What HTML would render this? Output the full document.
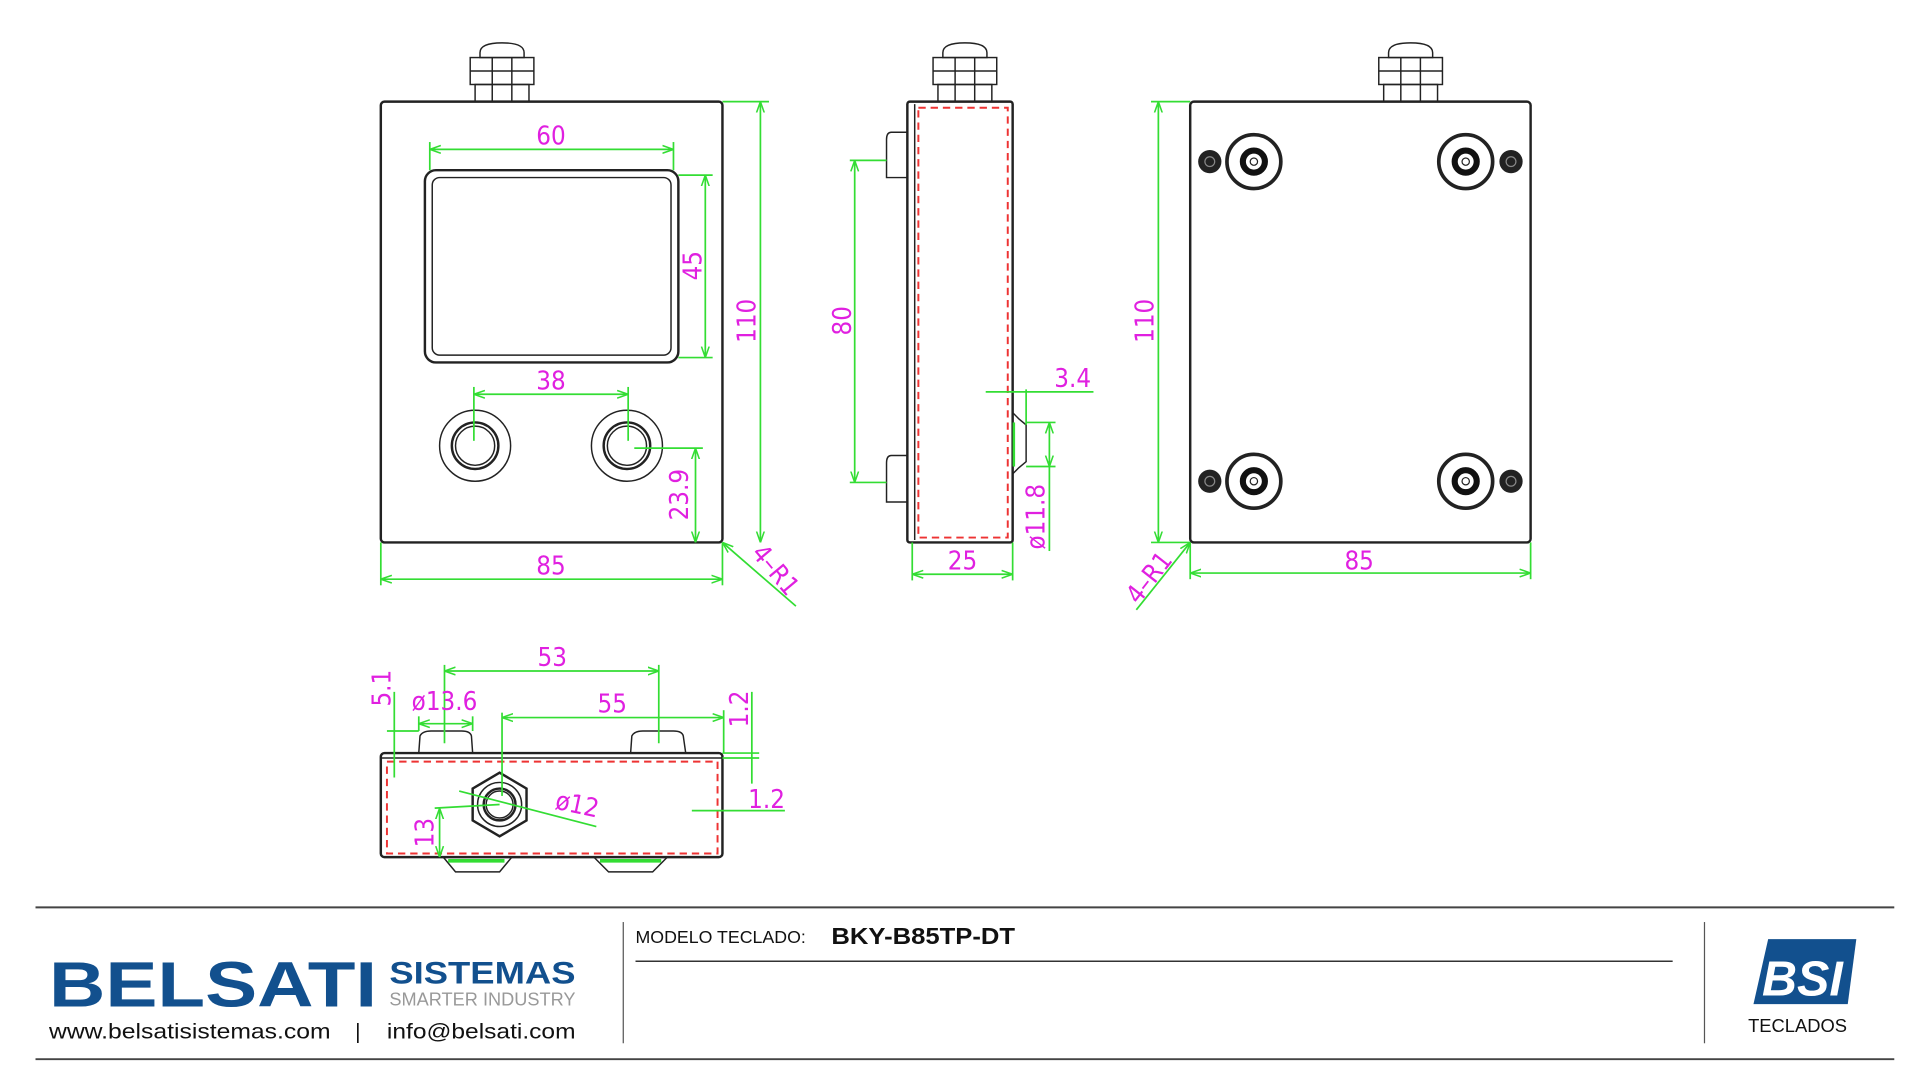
<!DOCTYPE html>
<html><head><meta charset="utf-8"><style>
html,body{margin:0;padding:0;background:#fff;width:1920px;height:1080px;overflow:hidden}
svg{display:block}
.o{fill:none;stroke:#222;stroke-width:2}
.t{fill:none;stroke:#222;stroke-width:1.2}
.g{stroke:#33dd33;stroke-width:1.4;fill:none}
.r{fill:none;stroke:#e33;stroke-width:1.6;stroke-dasharray:6 4}
.m{fill:#e020e0;font-family:"DejaVu Sans Condensed","Liberation Sans",sans-serif;font-size:21px;text-anchor:middle}
</style></head><body>
<svg width="1920" height="1080" viewBox="0 0 1568 882" xmlns="http://www.w3.org/2000/svg">
<defs>
<marker id="a" viewBox="0 0 10 10" refX="10" refY="5" markerWidth="9" markerHeight="9" orient="auto-start-reverse" markerUnits="userSpaceOnUse"><path d="M0,1.5 L10,5 L0,8.5" fill="none" stroke="#33dd33" stroke-width="1.4"/></marker>
<g id="gland"><path class="t" d="M8,12 L8,8 Q8,0 26,0 Q44,0 44,8 L44,12 Z"/><rect class="t" x="0" y="12" width="52" height="22"/><rect class="t" x="4" y="34" width="44" height="14"/><line class="t" x1="0" y1="23" x2="52" y2="23"/><line class="t" x1="18" y1="12" x2="18" y2="48"/><line class="t" x1="34" y1="12" x2="34" y2="48"/></g>
<g id="screw"><circle r="22" fill="none" stroke="#222" stroke-width="3"/><circle r="9" fill="none" stroke="#111" stroke-width="5"/><circle r="3" fill="#fff" stroke="#222"/></g>
<g id="sm"><circle r="9.5" fill="#222"/><circle r="4" fill="none" stroke="#888"/></g>
</defs>

<!-- FRONT VIEW -->
<use href="#gland" x="384" y="35"/>
<rect class="o" x="311" y="83" width="279" height="360" rx="3"/>
<rect class="o" x="347" y="139" width="207" height="157" rx="9"/>
<rect class="t" x="353" y="145" width="195" height="145" rx="6"/>
<circle class="t" cx="388" cy="364" r="29"/><circle class="o" cx="388" cy="364" r="19"/><circle class="t" cx="388" cy="364" r="16"/>
<circle class="t" cx="512" cy="364" r="29"/><circle class="o" cx="512" cy="364" r="19"/><circle class="t" cx="512" cy="364" r="16"/>
<line class="g" x1="351" y1="122" x2="550" y2="122" marker-start="url(#a)" marker-end="url(#a)"/>
<line class="g" x1="351" y1="116" x2="351" y2="139"/><line class="g" x1="550" y1="116" x2="550" y2="139"/>
<text class="m" x="450" y="118">60</text>
<line class="g" x1="554" y1="143" x2="582" y2="143"/><line class="g" x1="554" y1="292" x2="582" y2="292"/>
<line class="g" x1="576" y1="143" x2="576" y2="292" marker-start="url(#a)" marker-end="url(#a)"/>
<text class="m" transform="translate(573,217) rotate(-90)">45</text>
<line class="g" x1="590" y1="83" x2="628" y2="83"/>
<line class="g" x1="621" y1="83" x2="621" y2="443" marker-start="url(#a)" marker-end="url(#a)"/>
<text class="m" transform="translate(617,262) rotate(-90)">110</text>
<line class="g" x1="311" y1="443" x2="311" y2="478"/><line class="g" x1="590" y1="443" x2="590" y2="478"/>
<line class="g" x1="311" y1="473" x2="590" y2="473" marker-start="url(#a)" marker-end="url(#a)"/>
<text class="m" x="450" y="469">85</text>
<line class="g" x1="387" y1="316" x2="387" y2="360"/><line class="g" x1="513" y1="316" x2="513" y2="360"/>
<line class="g" x1="387" y1="322" x2="513" y2="322" marker-start="url(#a)" marker-end="url(#a)"/>
<text class="m" x="450" y="318">38</text>
<line class="g" x1="518" y1="366" x2="574" y2="366"/>
<line class="g" x1="568" y1="366" x2="568" y2="443" marker-start="url(#a)" marker-end="url(#a)"/>
<text class="m" transform="translate(562,404) rotate(-90)">23.9</text>
<line class="g" x1="590" y1="443" x2="650" y2="495" marker-start="url(#a)"/>
<text class="m" transform="translate(628,470) rotate(50)">4–R1</text>

<!-- SIDE VIEW -->
<use href="#gland" x="762" y="35"/>
<rect class="o" x="741" y="83" width="86" height="360" rx="2"/>
<line class="t" x1="747" y1="85" x2="747" y2="441"/>
<rect class="r" x="750" y="88" width="73" height="351"/>
<path class="t" d="M741,108 L728,108 Q724,108 724,114 L724,145 L741,145"/>
<path class="t" d="M741,372 L728,372 Q724,372 724,378 L724,410 L741,410"/>
<path class="t" d="M827,337 L832,342 L838,347 L838,377 L832,382 L827,387"/>
<line x1="828" y1="345" x2="828" y2="381" stroke="#33dd33" stroke-width="2"/>
<line class="g" x1="694" y1="131" x2="724" y2="131"/><line class="g" x1="694" y1="394" x2="724" y2="394"/>
<line class="g" x1="698" y1="131" x2="698" y2="394" marker-start="url(#a)" marker-end="url(#a)"/>
<text class="m" transform="translate(695,262) rotate(-90)">80</text>
<line class="g" x1="805" y1="320" x2="893" y2="320"/>
<line class="g" x1="838" y1="318" x2="838" y2="347"/>
<text class="m" x="876" y="316">3.4</text>
<line class="g" x1="838" y1="345" x2="862" y2="345"/><line class="g" x1="838" y1="381" x2="862" y2="381"/>
<line class="g" x1="857" y1="345" x2="857" y2="381" marker-start="url(#a)" marker-end="url(#a)"/>
<line class="g" x1="857" y1="381" x2="857" y2="450"/>
<text class="m" transform="translate(853,422) rotate(-90)">ø11.8</text>
<line class="g" x1="745" y1="443" x2="745" y2="474"/><line class="g" x1="827" y1="443" x2="827" y2="474"/>
<line class="g" x1="745" y1="469" x2="827" y2="469" marker-start="url(#a)" marker-end="url(#a)"/>
<text class="m" x="786" y="465">25</text>

<!-- BACK VIEW -->
<use href="#gland" x="1126" y="35"/>
<rect class="o" x="972" y="83" width="278" height="360" rx="3"/>
<use href="#screw" x="1024" y="132"/><use href="#screw" x="1197" y="132"/>
<use href="#screw" x="1024" y="393"/><use href="#screw" x="1197" y="393"/>
<use href="#sm" x="988" y="132"/><use href="#sm" x="1234" y="132"/>
<use href="#sm" x="988" y="393"/><use href="#sm" x="1234" y="393"/>
<line class="g" x1="940" y1="83" x2="972" y2="83"/><line class="g" x1="940" y1="443" x2="972" y2="443"/>
<line class="g" x1="946" y1="83" x2="946" y2="443" marker-start="url(#a)" marker-end="url(#a)"/>
<text class="m" transform="translate(942,262) rotate(-90)">110</text>
<line class="g" x1="972" y1="443" x2="972" y2="473"/><line class="g" x1="1250" y1="443" x2="1250" y2="473"/>
<line class="g" x1="972" y1="468" x2="1250" y2="468" marker-start="url(#a)" marker-end="url(#a)"/>
<text class="m" x="1110" y="465">85</text>
<line class="g" x1="972" y1="443" x2="928" y2="498" marker-start="url(#a)"/>
<text class="m" transform="translate(944,476) rotate(-52)">4–R1</text>

<!-- BOTTOM VIEW -->
<rect class="o" x="311" y="615" width="279" height="85" rx="3"/>
<line class="t" x1="311" y1="619" x2="590" y2="619"/>
<rect class="r" x="316" y="622" width="270" height="75"/>
<path class="t" d="M342,615 L343,601 Q345,597 352,597 L377,597 Q384,597 385,601 L386,615"/>
<path class="t" d="M515,615 L516,601 Q518,597 525,597 L550,597 Q557,597 558,601 L560,615"/>
<path class="t" d="M362,700 L372,712 L408,712 L418,700"/>
<path class="t" d="M485,700 L497,712 L533,712 L545,700"/>
<line x1="366" y1="703" x2="412" y2="703" stroke="#33dd33" stroke-width="3"/>
<line x1="490" y1="703" x2="540" y2="703" stroke="#33dd33" stroke-width="3"/>
<polygon class="o" points="408,631 430,644 430,670 408,683 386,670 386,644"/>
<circle class="t" cx="408" cy="657" r="18"/><circle class="o" cx="408" cy="657" r="13"/><circle class="t" cx="408" cy="657" r="11"/>
<line class="g" x1="363" y1="543" x2="363" y2="607"/><line class="g" x1="538" y1="543" x2="538" y2="607"/>
<line class="g" x1="363" y1="548" x2="538" y2="548" marker-start="url(#a)" marker-end="url(#a)"/>
<text class="m" x="451" y="544">53</text>
<line class="g" x1="410" y1="582" x2="410" y2="650"/><line class="g" x1="591" y1="580" x2="591" y2="615"/>
<line class="g" x1="410" y1="586" x2="591" y2="586" marker-start="url(#a)" marker-end="url(#a)"/>
<text class="m" x="500" y="582">55</text>
<line class="g" x1="342" y1="585" x2="342" y2="597"/><line class="g" x1="386" y1="585" x2="386" y2="597"/>
<line class="g" x1="342" y1="591" x2="386" y2="591" marker-start="url(#a)" marker-end="url(#a)"/>
<text class="m" x="363" y="580">ø13.6</text>
<line class="g" x1="316" y1="597" x2="342" y2="597"/>
<line class="g" x1="322" y1="565" x2="322" y2="635"/>
<text class="m" transform="translate(319,562) rotate(-90)">5.1</text>
<line class="g" x1="590" y1="619" x2="620" y2="619"/><line class="g" x1="590" y1="615" x2="620" y2="615"/>
<line class="g" x1="614" y1="565" x2="614" y2="640"/>
<text class="m" transform="translate(611,579) rotate(-90)">1.2</text>
<line class="g" x1="565" y1="662" x2="641" y2="662"/>
<text class="m" x="626" y="660">1.2</text>
<line class="g" x1="375" y1="646" x2="487" y2="675"/>
<text class="m" transform="translate(470,664) rotate(12)">ø12</text>
<line class="g" x1="355" y1="660" x2="408" y2="657"/>
<line class="g" x1="359" y1="660" x2="359" y2="700" marker-start="url(#a)" marker-end="url(#a)"/>
<text class="m" transform="translate(354,680) rotate(-90)">13</text>

<!-- FOOTER -->
<line x1="29" y1="741" x2="1547" y2="741" stroke="#444" stroke-width="1.6"/>
<line x1="29" y1="865" x2="1547" y2="865" stroke="#444" stroke-width="1.6"/>
<line x1="509" y1="753" x2="509" y2="852" stroke="#555" stroke-width="1"/>
<line x1="1392" y1="753" x2="1392" y2="852" stroke="#555" stroke-width="1"/>
<text x="40" y="822" font-family="Liberation Sans,sans-serif" font-size="52" font-weight="bold" fill="#12508e" textLength="268" lengthAdjust="spacingAndGlyphs">BELSATI</text>
<text x="318" y="803" font-family="Liberation Sans,sans-serif" font-size="26" font-weight="bold" fill="#12508e" textLength="152" lengthAdjust="spacingAndGlyphs">SISTEMAS</text>
<text x="318" y="821" font-family="Liberation Sans,sans-serif" font-size="15" fill="#999" textLength="152" lengthAdjust="spacingAndGlyphs">SMARTER INDUSTRY</text>
<text x="40" y="848" font-family="Liberation Sans,sans-serif" font-size="17" fill="#111" textLength="230" lengthAdjust="spacingAndGlyphs">www.belsatisistemas.com</text>
<text x="290" y="848" font-family="Liberation Sans,sans-serif" font-size="17" fill="#111">|</text>
<text x="316" y="848" font-family="Liberation Sans,sans-serif" font-size="17" fill="#111" textLength="154" lengthAdjust="spacingAndGlyphs">info@belsati.com</text>
<text x="519" y="770" font-family="Liberation Sans,sans-serif" font-size="14.5" fill="#111">MODELO TECLADO:</text>
<text x="679" y="771" font-family="Liberation Sans,sans-serif" font-size="19" font-weight="bold" fill="#111" textLength="150" lengthAdjust="spacingAndGlyphs">BKY-B85TP-DT</text>
<line x1="519" y1="785" x2="1366" y2="785" stroke="#333" stroke-width="1.2"/>
<polygon points="1444,767 1516,767 1509,820 1432,820" fill="#12508e"/>
<text x="1472" y="813" font-family="Liberation Sans,sans-serif" font-size="40" font-weight="bold" font-style="italic" fill="#fff" text-anchor="middle" textLength="66" lengthAdjust="spacingAndGlyphs">BSI</text>
<text x="1468" y="843" font-family="Liberation Sans,sans-serif" font-size="15" fill="#111" text-anchor="middle">TECLADOS</text>
</svg>
</body></html>
